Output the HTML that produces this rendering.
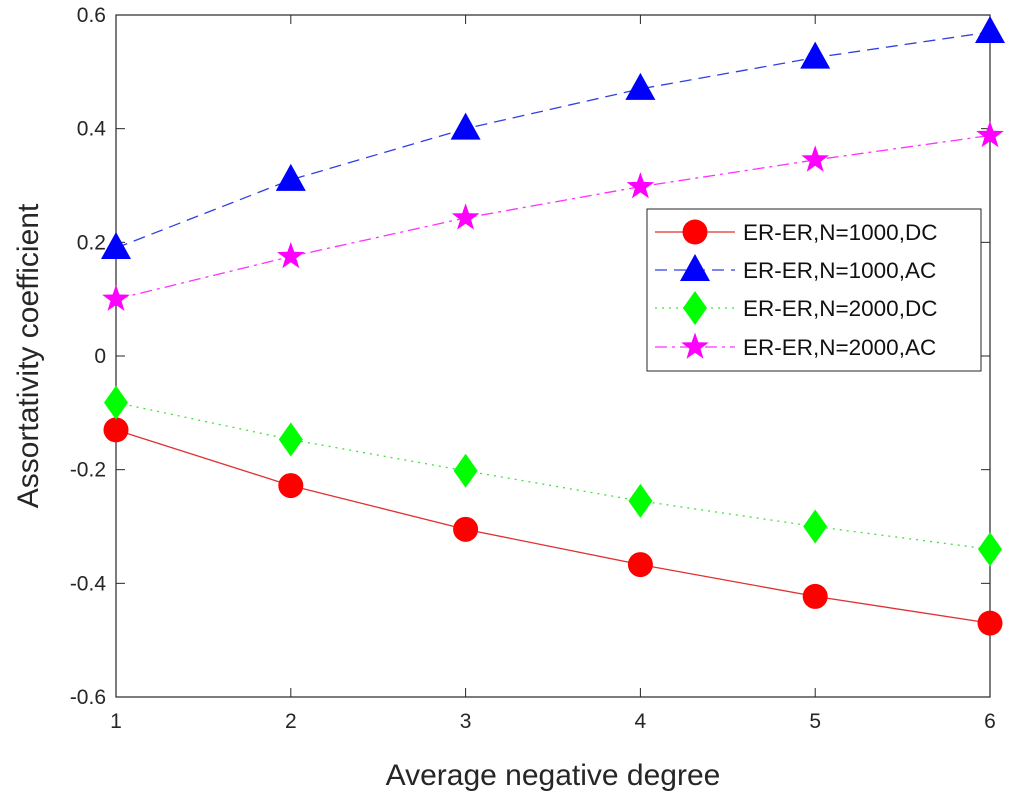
<!DOCTYPE html>
<html><head><meta charset="utf-8"><style>
body{margin:0;background:#fff}
svg{display:block;font-family:"Liberation Sans",Arial,sans-serif}
</style></head><body>
<svg id="chart" width="1009" height="798" viewBox="0 0 1009 798"></svg>
<script>
const categories=[1,2,3,4,5,6];
const dcN1000=[-0.13,-0.228,-0.305,-0.367,-0.423,-0.47];
const acN1000=[0.19,0.31,0.40,0.47,0.525,0.57];
const dcN2000=[-0.082,-0.147,-0.202,-0.255,-0.30,-0.34];
const acN2000=[0.10,0.175,0.243,0.298,0.345,0.388];
const yTicks=[-0.6,-0.4,-0.2,0,0.2,0.4,0.6];
const yTickLabels=["-0.6","-0.4","-0.2","0","0.2","0.4","0.6"];
const legendLabels=["ER-ER,N=1000,DC","ER-ER,N=1000,AC","ER-ER,N=2000,DC","ER-ER,N=2000,AC"];

const L=116,R=990,T=15,B=697;
const xs=v=>L+(v-1)/5*(R-L);
const ys=v=>B-(v+0.6)/1.2*(B-T);
const svg=document.getElementById('chart');
const NS='http://www.w3.org/2000/svg';
function mk(tag,attrs,parent){const e=document.createElementNS(NS,tag);for(const k in attrs)e.setAttribute(k,attrs[k]);(parent||svg).appendChild(e);return e;}

const frame=mk('rect',{x:L,y:T,width:R-L,height:B-T,fill:'#fff',stroke:'#262626','stroke-width':1.2});



categories.forEach(c=>{
  const x=xs(c);
  mk('line',{x1:x,y1:B,x2:x,y2:B-9,stroke:'#262626'});
  mk('line',{x1:x,y1:T,x2:x,y2:T+9,stroke:'#262626'});
  const t=mk('text',{x:x,y:B+31,'text-anchor':'middle','font-size':21,fill:'#262626'});
  t.textContent=c;
  
  
});
yTicks.forEach((v,i)=>{
  const y=ys(v);
  mk('line',{x1:L,y1:y,x2:L+9,y2:y,stroke:'#262626'});
  mk('line',{x1:R,y1:y,x2:R-9,y2:y,stroke:'#262626'});
  const t=mk('text',{x:L-10,y:y+7,'text-anchor':'end','font-size':21,fill:'#262626'});
  t.textContent=yTickLabels[i];
  
  
});
const xt=mk('text',{x:(L+R)/2,y:785,'text-anchor':'middle','font-size':30,fill:'#262626'});
xt.textContent='Average negative degree';


const yt=mk('text',{x:0,y:0,'text-anchor':'middle','font-size':30,fill:'#262626',transform:`translate(38,${(T+B)/2}) rotate(-90)`});
yt.textContent='Assortativity coefficient';



function marker(type,x,y,color,g){
  if(type==='circle')return mk('circle',{cx:x,cy:y,r:12.5,fill:color},g);
  if(type==='tri')return mk('polygon',{points:`${x},${y-16} ${x+15},${y+11} ${x-15},${y+11}`,fill:color},g);
  if(type==='diamond')return mk('polygon',{points:`${x},${y-17} ${x+12},${y} ${x},${y+17} ${x-12},${y}`,fill:color},g);
  let p=[];for(let k=0;k<10;k++){const r=k%2?5.8:14.5;const a=-Math.PI/2+k*Math.PI/5;p.push((x+r*Math.cos(a)).toFixed(1)+','+(y+r*Math.sin(a)).toFixed(1));}
  return mk('polygon',{points:p.join(' '),fill:color},g);
}
const series=[
 {d:dcN1000,c:'#ff0000',lc:'#e03030',m:'circle',dash:'',name:'series-er-n1000-dc'},
 {d:acN1000,c:'#0000ff',lc:'#3040e0',m:'tri',dash:'12,7',name:'series-er-n1000-ac'},
 {d:dcN2000,c:'#00ff00',lc:'#40e040',m:'diamond',dash:'2,5',name:'series-er-n2000-dc'},
 {d:acN2000,c:'#ff00ff',lc:'#ff30ff',m:'star',dash:'12,5,3,5',name:'series-er-n2000-ac'}
];
series.forEach(s=>{
  const g=mk('g',{});
  
  
  mk('polyline',{points:s.d.map((v,i)=>xs(categories[i])+','+ys(v)).join(' '),fill:'none',stroke:s.lc,'stroke-width':1.3,'stroke-dasharray':s.dash},g);
  s.d.forEach((v,i)=>{const m=marker(s.m,xs(categories[i]),ys(v),s.c,g);
    
    });
});
const lg=mk('g',{});


mk('rect',{x:647,y:209,width:334,height:162,fill:'#fff',stroke:'#262626','stroke-width':1},lg);
const rowsY=[232,270,308,347];
series.forEach((s,i)=>{
  const e=mk('g',{},lg);
  
  
  const y=rowsY[i];
  mk('line',{x1:655,y1:y,x2:735,y2:y,stroke:s.lc,'stroke-width':1.3,'stroke-dasharray':s.dash},e);
  marker(s.m,695,y,s.c,e);
  const t=mk('text',{x:743,y:y+8,'font-size':22.5,fill:'#111'},e);
  t.textContent=legendLabels[i];
});
</script>
</body></html>
